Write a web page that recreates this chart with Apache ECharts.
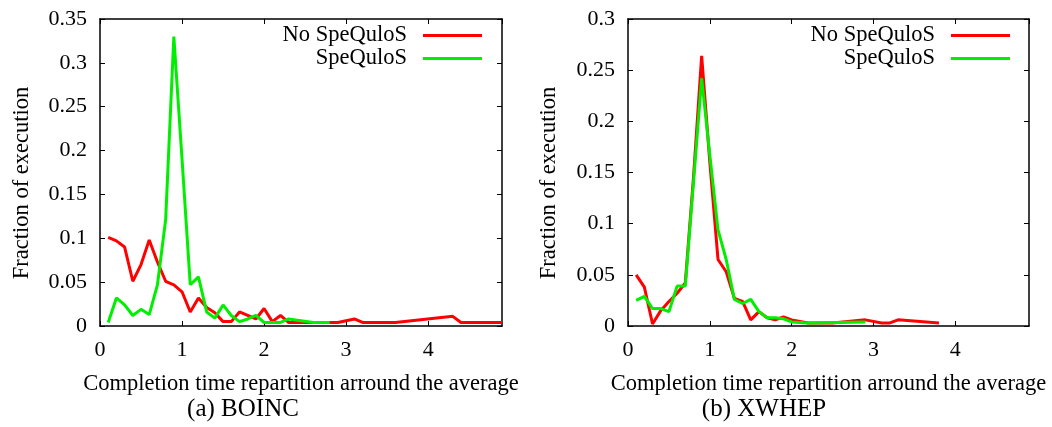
<!DOCTYPE html>
<html>
<head>
<meta charset="utf-8">
<script src="https://cdn.jsdelivr.net/npm/echarts@6/dist/echarts.min.js"></script>
<style>
html,body{margin:0;padding:0;background:#fff;}
#c{width:1052px;height:427px;}
</style>
</head>
<body>
<div id="c"></div>
<script>
// ---- Data ----
const boincNoSpeqX = [0.1,0.2,0.3,0.4,0.5,0.6,0.7,0.8,0.9,1.0,1.1,1.2,1.3,1.4,1.5,1.6,1.7,1.8,1.9,2.0,2.1,2.2,2.3,2.9,3.1,3.2,3.6,4.3,4.4,4.9];
const boincNoSpeqY = [0.101,0.097,0.090,0.051,0.070,0.098,0.073,0.051,0.047,0.039,0.016,0.032,0.021,0.015,0.005,0.005,0.016,0.012,0.008,0.020,0.005,0.012,0.004,0.004,0.008,0.004,0.004,0.011,0.004,0.004];
const boincSpeqX = [0.1,0.2,0.3,0.4,0.5,0.6,0.7,0.8,0.9,1.0,1.1,1.2,1.3,1.4,1.5,1.6,1.7,1.8,1.9,2.0,2.1,2.2,2.3,2.6,2.8];
const boincSpeqY = [0.004,0.032,0.024,0.012,0.019,0.013,0.047,0.121,0.330,0.190,0.047,0.056,0.016,0.009,0.024,0.012,0.005,0.008,0.012,0.004,0.004,0.004,0.008,0.004,0.004];
const xwhepNoSpeqX = [0.1,0.2,0.3,0.4,0.5,0.6,0.7,0.8,0.9,1.0,1.1,1.2,1.3,1.4,1.5,1.6,1.7,1.8,1.9,2.0,2.2,2.5,2.9,3.1,3.2,3.3,3.8];
const xwhepNoSpeqY = [0.050,0.038,0.002,0.015,0.024,0.032,0.042,0.145,0.264,0.160,0.065,0.053,0.027,0.024,0.006,0.014,0.008,0.006,0.009,0.006,0.003,0.003,0.006,0.003,0.003,0.006,0.003];
const xwhepSpeqX = [0.1,0.2,0.3,0.4,0.5,0.6,0.7,0.8,0.9,1.0,1.1,1.2,1.3,1.4,1.5,1.6,1.7,1.8,1.9,2.0,2.2,2.9];
const xwhepSpeqY = [0.025,0.029,0.017,0.017,0.014,0.039,0.039,0.140,0.242,0.167,0.094,0.065,0.026,0.022,0.026,0.014,0.008,0.008,0.007,0.004,0.003,0.004];
const xTickLabels = ['0','1','2','3','4'];
const seriesNames = ['No SpeQuloS','SpeQuloS'];
const xTitle = 'Completion time repartition arround the average';
const yTitle = 'Fraction of execution';
const captions = ['(a) BOINC','(b) XWHEP'];

const pairs = (xs, ys) => xs.map((x,i)=>[x, ys[i]]);
const FONT = 'Liberation Serif';
const RED = '#ff0000', GREEN = '#00ee00';

const grids = [
  {left:100, right:550, top:19, bottom:101},
  {left:628, right:23, top:19, bottom:101}
];
const yMax = [0.35, 0.30];

function xAxes(gi){
  return [
    {type:'value', gridIndex:gi, position:'bottom', min:0, max:4.9, interval:1,
     name:xTitle, nameLocation:'middle', nameGap:47,
     nameTextStyle:{fontFamily:FONT, fontSize:22.5, color:'#000'},
     axisLine:{show:true, onZero:false, lineStyle:{color:'#000', width:1.5}},
     axisTick:{show:true, inside:true, length:5, lineStyle:{color:'#000'}},
     axisLabel:{show:true, margin:13, showMaxLabel:false, fontFamily:FONT, fontSize:22, color:'#000',
       formatter:(v)=>{const i=Math.round(v); return (Math.abs(v-i)<1e-6 && i<xTickLabels.length)? xTickLabels[i] : '';}},
     splitLine:{show:false}},
    {type:'value', gridIndex:gi, position:'top', min:0, max:4.9, interval:1,
     axisLine:{show:true, onZero:false, lineStyle:{color:'#000', width:1.5}},
     axisTick:{show:true, inside:true, length:5, lineStyle:{color:'#000'}},
     axisLabel:{show:false}, splitLine:{show:false}}
  ];
}
function yAxes(gi){
  return [
    {type:'value', gridIndex:gi, position:'left', min:0, max:yMax[gi], interval:0.05,
     axisLine:{show:true, onZero:false, lineStyle:{color:'#000', width:1.5}},
     axisTick:{show:true, inside:true, length:5, lineStyle:{color:'#000'}},
     axisLabel:{show:true, margin:13, fontFamily:FONT, fontSize:22, color:'#000',
       formatter:(v)=>String(parseFloat(v.toFixed(2)))},
     splitLine:{show:false}},
    {type:'value', gridIndex:gi, position:'right', min:0, max:yMax[gi], interval:0.05,
     axisLine:{show:true, onZero:false, lineStyle:{color:'#000', width:1.5}},
     axisTick:{show:true, inside:true, length:5, lineStyle:{color:'#000'}},
     axisLabel:{show:false}, splitLine:{show:false}}
  ];
}

function line(name, data, color, gi){
  return {type:'line', name, data, xAxisIndex:gi*2, yAxisIndex:gi*2,
    showSymbol:false, symbol:'none', animation:false,
    lineStyle:{color, width:3}, itemStyle:{color}};
}

function legends(rightPx){
  return seriesNames.map((n,i)=>({
    data:[n], right:rightPx, top:24 + i*23, orient:'vertical', align:'right',
    icon:'rect', itemWidth:59, itemHeight:3, padding:0, itemGap:0,
    selectedMode:false,
    textStyle:{fontFamily:FONT, fontSize:22.5, color:'#000', lineHeight:22, padding:[0,11,0,0]}
  }));
}

function textEl(x, y, text, size, rot){
  return {type:'text', x, y, rotation: rot || 0,
    style:{text, font: size + 'px "Liberation Serif"', fill:'#000', align:'center', verticalAlign:'middle'}};
}

const chart = echarts.init(document.getElementById('c'), null, {renderer:'canvas'});
chart.setOption({
  animation:false,
  backgroundColor:'#fff',
  grid: grids,
  xAxis: [...xAxes(0), ...xAxes(1)],
  yAxis: [...yAxes(0), ...yAxes(1)],
  legend: [...legends(570), ...legends(42)],
  series: [
    line(seriesNames[0], pairs(boincNoSpeqX, boincNoSpeqY), RED, 0),
    line(seriesNames[1], pairs(boincSpeqX, boincSpeqY), GREEN, 0),
    line(seriesNames[0], pairs(xwhepNoSpeqX, xwhepNoSpeqY), RED, 1),
    line(seriesNames[1], pairs(xwhepSpeqX, xwhepSpeqY), GREEN, 1)
  ],
  graphic: [
    textEl(22, 183, yTitle, 22.5, Math.PI/2),
    textEl(549, 183, yTitle, 22.5, Math.PI/2),
    textEl(243, 409, captions[0], 25),
    textEl(764, 409, captions[1], 25)
  ]
});
</script>
</body>
</html>
